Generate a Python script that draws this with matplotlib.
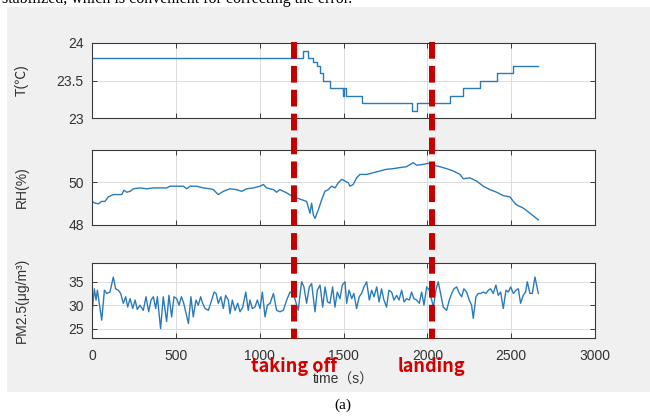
import matplotlib
matplotlib.use("Agg")
import matplotlib.pyplot as plt
import matplotlib.transforms as mtransforms
from matplotlib.patches import Rectangle
from matplotlib.lines import Line2D

plt.rcParams['font.family'] = ['Liberation Sans', 'Noto Sans CJK SC', 'DejaVu Sans']

# temperature (step readings, deg C)
temp_time = [0, 1257, 1290, 1320, 1340, 1360, 1380, 1419, 1499, 1505,
             1512, 1608, 1907, 1937, 2135, 2215, 2314, 2414, 2513, 2662]
temp_vals = [23.8, 23.9, 23.8, 23.75, 23.7, 23.6, 23.5, 23.4, 23.3, 23.4,
             23.3, 23.2, 23.1, 23.2, 23.3, 23.4, 23.5, 23.6, 23.7, 23.7]

# relative humidity (%)
rh_time = [0, 18, 38, 57, 77, 97, 127, 177, 191, 207,
           227, 247, 286, 326, 366, 406, 445, 465, 525, 545,
           565, 584, 624, 664, 704, 724, 753, 783, 823, 863,
           893, 922, 962, 1002, 1022, 1042, 1082, 1101,
           1121, 1161, 1201, 1240, 1280, 1300, 1310, 1320, 1330, 1350,
           1370, 1389, 1409, 1429, 1449, 1469, 1489, 1509, 1529, 1538,
           1558, 1578, 1598, 1638, 1678, 1717, 1757, 1797, 1837, 1876,
           1916, 1936, 1976, 2006, 2035, 2075, 2115, 2155, 2195, 2214,
           2254, 2294, 2334, 2373, 2413, 2453, 2493, 2513, 2532, 2572,
           2612, 2662]
rh_vals = [49.10, 49.02, 48.99, 49.10, 49.10, 49.31, 49.42, 49.42, 49.62, 49.53,
           49.57, 49.69, 49.73, 49.69, 49.73, 49.73, 49.73, 49.81, 49.81, 49.81,
           49.69, 49.81, 49.81, 49.73, 49.69, 49.65, 49.42, 49.57, 49.69, 49.65,
           49.57, 49.69, 49.73, 49.81, 49.89, 49.73, 49.65, 49.53,
           49.65, 49.50, 49.31, 49.21, 49.10, 48.55, 49.02, 48.47, 48.31, 48.71,
           49.18, 49.57, 49.65, 49.81, 49.73, 49.97, 50.13, 50.05, 49.97, 49.81,
           49.89, 50.20, 50.36, 50.36, 50.44, 50.52, 50.60, 50.63, 50.68, 50.72,
           50.91, 50.79, 50.83, 50.88, 50.79, 50.72, 50.63, 50.52, 50.36, 50.16,
           50.20, 50.05, 49.81, 49.65, 49.53, 49.37, 49.31, 49.10, 48.94, 48.79,
           48.55, 48.24]

# PM2.5 (ug/m3)
pm_time = [0, 14, 24, 32, 58, 74, 88, 107, 127, 141,
           157, 171, 187, 201, 213, 227, 243, 257, 270, 286,
           306, 322, 338, 352, 366, 380, 390, 409, 425, 445,
           459, 475, 489, 505, 519, 533, 545, 575, 590, 604,
           620, 634, 648, 660, 674, 694, 714, 728, 740, 753,
           769, 783, 797, 813, 823, 837, 853, 869, 883, 899,
           917, 932, 942, 956, 972, 986, 1002, 1016, 1032, 1046,
           1062, 1082, 1101,
           1121, 1141, 1161, 1181, 1201, 1230, 1250, 1264, 1280, 1296,
           1310, 1330, 1344, 1360, 1376, 1390, 1405, 1419, 1435, 1449,
           1463, 1479, 1493, 1509, 1519, 1533, 1549, 1562, 1578, 1594,
           1608, 1622, 1638, 1654, 1668, 1682, 1698, 1712, 1727, 1741,
           1757, 1771, 1787, 1801, 1817, 1831, 1847, 1861, 1877, 1893,
           1906, 1920, 1936, 1952, 1966, 1980, 1996, 2012, 2036, 2051,
           2065, 2079, 2095, 2115, 2131, 2145, 2159, 2175, 2191, 2205,
           2218, 2234, 2250, 2264, 2274, 2290, 2304, 2318, 2334, 2350,
           2364, 2377, 2393, 2409, 2423, 2437, 2453, 2469, 2483, 2497,
           2513, 2529, 2543, 2556, 2572, 2586, 2596, 2612, 2626, 2642,
           2662]
pm_vals = [28.2, 33.5, 31.1, 33.2, 26.8, 33.2, 32.5, 32.8, 36.0, 33.5,
           33.2, 32.5, 30.4, 31.8, 29.6, 31.4, 29.3, 31.1, 29.1, 30.0,
           28.9, 31.8, 28.6, 31.1, 31.8, 29.3, 31.8, 25.0, 31.8, 26.5,
           32.1, 27.5, 31.8, 31.4, 30.0, 31.8, 30.7, 26.1, 31.8, 27.5,
           31.1, 30.0, 31.8, 30.4, 29.3, 28.9, 31.1, 32.8, 32.5, 30.4,
           31.8, 29.3, 32.1, 31.1, 28.2, 31.1, 28.9, 30.4, 28.6, 29.6,
           32.8, 28.9, 31.1, 29.3, 29.6, 31.1, 29.3, 32.8, 27.5, 30.0,
           30.4, 32.5, 28.9,
           28.6, 28.9, 31.1, 32.8, 32.5, 28.9, 35.0, 33.9, 30.4, 33.9,
           34.6, 28.6, 33.2, 34.3, 29.6, 33.9, 30.7, 30.4, 33.9, 29.6,
           32.8, 31.4, 34.3, 35.0, 30.4, 33.2, 31.4, 32.5, 29.3, 31.8,
           32.5, 33.9, 35.0, 31.1, 33.2, 31.8, 33.9, 30.7, 33.5, 31.1,
           29.6, 33.2, 32.8, 31.1, 32.1, 31.1, 33.2, 30.7, 31.4, 31.1,
           32.8, 31.4, 31.1, 30.4, 32.8, 30.0, 33.9, 33.2, 29.6, 33.2,
           35.0, 32.5, 29.6, 28.9, 31.1, 32.5, 33.5, 33.9, 32.5, 31.8,
           33.5, 32.8, 31.1, 30.0, 27.2, 31.8, 32.5, 32.5, 32.8, 32.5,
           33.2, 33.5, 32.5, 34.3, 32.1, 32.8, 29.3, 33.2, 32.8, 33.9,
           32.5, 33.2, 33.5, 30.4, 32.1, 32.8, 35.0, 32.5, 32.5, 36.0,
           32.5]

events = [1205, 2025]
event_names = ['taking off', 'landing']

x_ticks = [0, 500, 1000, 1500, 2000, 2500, 3000]

W, H = 650, 416
fig = plt.figure(figsize=(W / 100, H / 100), dpi=100)
fig.patch.set_facecolor('white')

# gray panel behind the plots
fig.add_artist(Rectangle((7 / W, 1 - 392 / H), 1 - 7 / W, (392 - 7) / H,
                         transform=fig.transFigure, facecolor='#f0f0f0',
                         edgecolor='none', zorder=0))

line_color = '#2b7bba'
axis_color = '#3a3a3a'


def style(ax, ylim, yticks, ylabel):
    ax.set_xlim(0, 3000)
    ax.set_ylim(*ylim)
    ax.set_xticks(x_ticks)
    ax.set_yticks(yticks)
    ax.grid(True, color='#dcdcdc', linewidth=0.7)
    ax.set_axisbelow(True)
    ax.tick_params(direction='in', top=True, right=True, length=3.5,
                   width=0.7, color=axis_color, labelcolor='#333333',
                   labelsize=10, pad=6)
    for s in ax.spines.values():
        s.set_color(axis_color)
        s.set_linewidth(0.8)
    ax.set_ylabel(ylabel, fontsize=10, color='#333333', va='center')
    ax.yaxis.set_label_coords(-0.139, 0.5)


left, width = 92 / W, (595 - 92) / W
ax1 = fig.add_axes([left, 1 - 118 / H, width, 75 / H])
ax2 = fig.add_axes([left, 1 - 225 / H, width, 75 / H])
ax3 = fig.add_axes([left, 1 - 338 / H, width, 75 / H])

ax1.step(temp_time, temp_vals, where='post', color=line_color, lw=1.0)
style(ax1, (23, 24), [23, 23.5, 24], 'T(℃)')
ax1.set_yticklabels(['23', '23.5', '24'])
ax1.tick_params(labelbottom=False)

ax2.plot(rh_time, rh_vals, color=line_color, lw=1.0)
style(ax2, (48, 51.5), [48, 50], 'RH(%)')
ax2.tick_params(labelbottom=False)

ax3.plot(pm_time, pm_vals, color=line_color, lw=1.0)
style(ax3, (23, 39), [25, 30, 35], 'PM2.5(μg/m³)')
ax3.tick_params(axis='x', pad=8)
ax3.set_xlabel('time（s）', fontsize=10, color='#333333', va='center')
ax3.xaxis.set_label_coords(0.5, (338 - 380) / 75)

# event markers running through all three panels
trans = mtransforms.blended_transform_factory(ax3.transData, fig.transFigure)
for x, name in zip(events, event_names):
    fig.add_artist(Line2D([x, x], [1 - 42 / H, 1 - 339 / H], transform=trans,
                          color='#c40000', lw=4.3, linestyle=(0, (2.8, 1.2)),
                          solid_capstyle='butt', dash_capstyle='butt',
                          zorder=5))
    fig.text(x, 1 - 367 / H, name, transform=trans, ha='center', va='center',
             color='#d40000', fontsize=13, fontweight='bold',
             family=['Noto Sans CJK SC', 'DejaVu Sans'], zorder=6)

fig.text(2 / W, 1 - 3 / H,
         'stabilized, which is convenient for correcting the error.',
         ha='left', va='baseline', fontsize=11.5,
         family=['Liberation Serif', 'DejaVu Serif'])
fig.text(343 / W, 1 - 405 / H, '(a)', ha='center', va='center',
         fontsize=11, family=['Liberation Serif', 'DejaVu Serif'])

fig.savefig('out.png', dpi=100, facecolor=fig.get_facecolor())
